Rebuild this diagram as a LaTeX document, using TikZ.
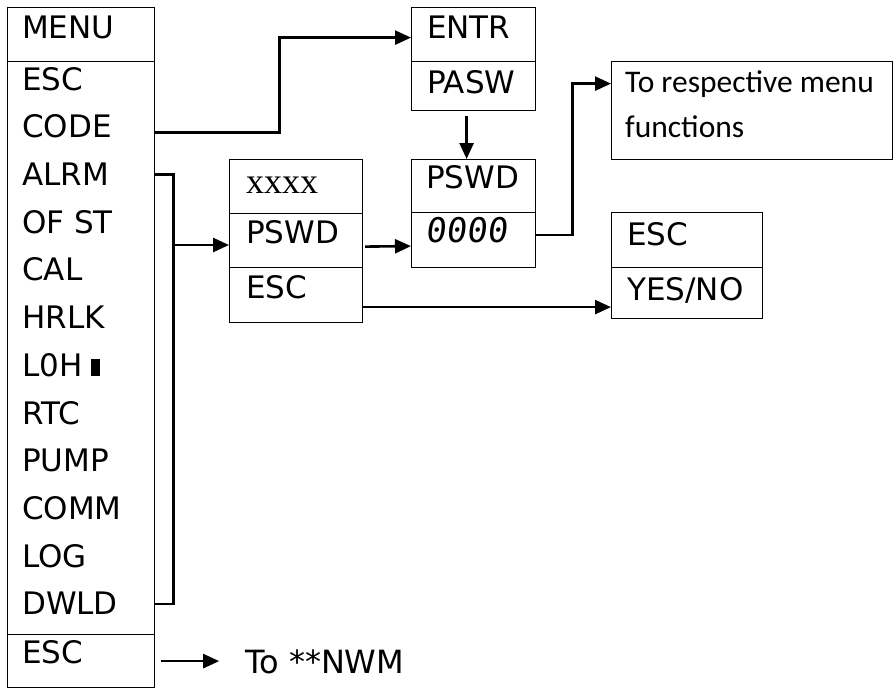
\documentclass[tikz,border=0pt]{standalone}
\usepackage{fontspec}
\setmainfont{DejaVu Sans}
\newfontfamily\calibrifont{Carlito}
\newfontfamily\timesfont{Liberation Serif}
\newfontfamily\segfont[FakeSlant=0.12]{DejaVu Sans Mono}
\usetikzlibrary{arrows.meta}

\tikzset{
  cell/.style={draw, line width=1.2pt, inner sep=0pt, anchor=north west},
  lbl/.style={anchor=base west, inner sep=0pt, text height=22pt, text depth=0pt,
    font=\fontsize{31}{36}\selectfont},
  link/.style={line width=2.6pt},
  arr/.style={-{Triangle[length=16pt,width=14pt]}}
}

\begin{document}
\begin{tikzpicture}[x=1pt, y=-1pt]
    \useasboundingbox (0,0) rectangle (893,688);

    % menu column
    \node[cell, minimum width=147pt, minimum height=54pt] (menuheadbox) at (7,7) {};
    \node[cell, minimum width=147pt, minimum height=573pt] (menubody) at (7,61) {};
    \node[cell, minimum width=147pt, minimum height=53pt] (menuescbox) at (7,634) {};

    \node[lbl] (menu) at (22,38) {MENU};
    \node[lbl] (esctop) at (22,90) {ESC};
    \node[lbl] (code) at (22,137.7) {CODE};
    \node[lbl] (alrm) at (22,185.4) {ALRM};
    \node[lbl] (ofst) at (22,233.2) {OF ST};
    \node[lbl] (cal) at (22,280.9) {CAL};
    \node[lbl] (hrlk) at (22,328.6) {HRLK};
    \node[lbl] (loh) at (22,376.3) {L0H};
    \fill ([xshift=8pt]loh.base east) rectangle ++(9,-17);
    \node[lbl] (rtc) at (22,424) {RTC};
    \node[lbl] (pump) at (22,471.8) {PUMP};
    \node[lbl] (comm) at (22,519.5) {COMM};
    \node[lbl] (log) at (22,567.2) {LOG};
    \node[lbl] (dwld) at (22,614.9) {DWLD};
    \node[lbl] (escbot) at (22,663) {ESC};

    % password entry
    \node[cell, minimum width=124pt, minimum height=54pt] (entrbox) at (411,7) {};
    \node[cell, minimum width=124pt, minimum height=49pt] (paswbox) at (411,61) {};
    \node[lbl] (entr) at (427,38) {ENTR};
    \node[lbl] (pasw) at (427,93) {PASW};

    \node[cell, minimum width=124pt, minimum height=53pt] (pswdheadbox) at (411,159) {};
    \node[cell, minimum width=124pt, minimum height=55pt] (pswdvalbox) at (411,212) {};
    \node[lbl] (pswdhead) at (426,188) {PSWD};
    \node[lbl, font=\segfont\fontsize{34}{36}\selectfont] (pswdval) at (425,242) {0000};

    % xxxx box
    \node[cell, minimum width=133pt, minimum height=54pt] (xxxxbox) at (229,159) {};
    \node[cell, minimum width=133pt, minimum height=54pt] (pswdbox) at (229,213) {};
    \node[cell, minimum width=133pt, minimum height=55pt] (escmidbox) at (229,267) {};
    \node[lbl, font=\timesfont\fontsize{36}{36}\selectfont] (xxxx) at (246,193) {xxxx};
    \node[lbl] (pswd) at (246,243) {PSWD};
    \node[lbl] (escmid) at (246,298) {ESC};

    % targets
    \node[cell, minimum width=281pt, minimum height=98pt] (respbox) at (611,61) {};
    \node[anchor=north west, inner sep=0pt, align=left,
      font=\calibrifont\fontsize{31.5}{45}\selectfont] (resp) at (625,71) {To respective menu\\functions};

    \node[cell, minimum width=151pt, minimum height=55pt] (escynbox) at (611,212) {};
    \node[cell, minimum width=151pt, minimum height=51pt] (yesnobox) at (611,267) {};
    \node[lbl] (escyn) at (627,245) {ESC};
    \node[lbl] (yesno) at (627,300) {YES/NO};

    \node[lbl, font=\fontsize{32}{36}\selectfont] (nwm) at (245,673) {To **NWM};

    % connectors
    \draw[link, arr] ([yshift=-6pt]code.east -| menubody.east) -- ++(124,0) |- ([yshift=-3pt]entrbox.west);
    \draw[link] (alrm.east -| menubody.east) -- ++(18,0) |- (dwld.east -| menubody.east);
    \coordinate (fork) at (175,245);
    \draw[link, arr] (fork) -- (fork -| pswdbox.west);
    \draw[link, arr] ([xshift=2pt,yshift=-6pt]pswdbox.east) -- ([yshift=-6pt]pswdvalbox.west);
    \draw[link, arr] ([xshift=-7pt,yshift=-5pt]paswbox.south) -- ([xshift=-7pt]pswdheadbox.north);
    \draw[link, arr] ([yshift=5pt]pswdvalbox.east) -- ++(36,0) |- ([yshift=27pt]respbox.west);
    \draw[link, arr] ([yshift=-12pt]escmidbox.east) -- ([yshift=-12pt]escmidbox.east -| yesnobox.west);
    \draw[link, arr] ([xshift=6pt]menuescbox.east) -- ++(58,0);
\end{tikzpicture}
\end{document}
